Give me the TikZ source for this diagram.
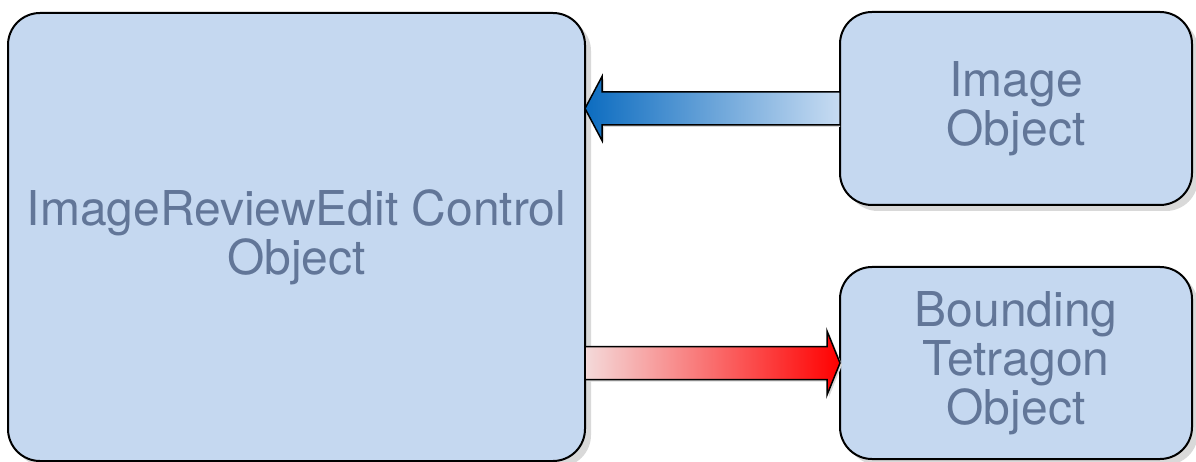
\documentclass[tikz,border=0pt]{standalone}
\usepackage{fontspec}
\setmainfont{TeX Gyre Heros}
\usetikzlibrary{shadows,calc}
\definecolor{boxfill}{RGB}{197,216,240}
\definecolor{boxtext}{RGB}{98,118,152}
\definecolor{blueTip}{RGB}{12,108,192}
\definecolor{blueTail}{RGB}{200,220,242}
\definecolor{redTip}{RGB}{255,0,0}
\definecolor{redTail}{RGB}{244,218,218}
\tikzset{
  objbox/.style={draw=black, line width=2pt, fill=boxfill, rounded corners=32pt,
    inner sep=0pt, outer sep=0pt, align=center, text=boxtext,
    font=\fontsize{48}{49}\selectfont,
    drop shadow={shadow xshift=6pt, shadow yshift=-6pt, fill=black!15, opacity=1}},
  fatarrow/.style={draw=black, line width=1.5pt, line join=miter}
}
\begin{document}
\begin{tikzpicture}[x=1pt,y=-1pt]
\useasboundingbox (0,0) rectangle (1196,462);
\node[objbox, minimum width=577pt, minimum height=448pt] (ctrl) at (296.5,237) {ImageReviewEdit Control\\Object};
\node[objbox, minimum width=352pt, minimum height=193pt] (img) at (1016,108.5) {Image\\Object};
\node[objbox, minimum width=352pt, minimum height=192pt] (tet) at (1016,363) {Bounding\\Tetragon\\Object};
% blue arrow: from Image Object to control
\coordinate (btip) at (ctrl.east |- img.west);
\coordinate (btail) at (img.west);
\path[fill=black!15] ($(btail)+(0,-14.5)$) -- ($(btip)+(19,-14.5)$) -- ($(btip)+(19,-30)$) -- ($(btip)+(2,2)$) -- ($(btip)+(19,34)$) -- ($(btip)+(19,18.5)$) -- ($(btail)+(0,18.5)$) -- cycle;
\path[fatarrow, left color=blueTip, right color=blueTail]
  ($(btail)+(0,-16.5)$) -- ($(btip)+(17,-16.5)$) -- ($(btip)+(17,-32)$) -- (btip)
  -- ($(btip)+(17,32)$) -- ($(btip)+(17,16.5)$) -- ($(btail)+(0,16.5)$) -- cycle;
% red arrow: from control to Bounding Tetragon Object
\coordinate (rtail) at (ctrl.east |- tet.west);
\coordinate (rtip) at (tet.west);
\path[fill=black!15] ($(rtail)+(2,-14.5)$) -- ($(rtip)+(-11,-14.5)$) -- ($(rtip)+(-11,-30)$) -- ($(rtip)+(2,2)$) -- ($(rtip)+(-11,34)$) -- ($(rtip)+(-11,18.5)$) -- ($(rtail)+(2,18.5)$) -- cycle;
\path[fatarrow, left color=redTail, right color=redTip]
  ($(rtail)+(0,-16.5)$) -- ($(rtip)+(-13,-16.5)$) -- ($(rtip)+(-13,-32)$) -- (rtip)
  -- ($(rtip)+(-13,32)$) -- ($(rtip)+(-13,16.5)$) -- ($(rtail)+(0,16.5)$) -- cycle;
\end{tikzpicture}
\end{document}
